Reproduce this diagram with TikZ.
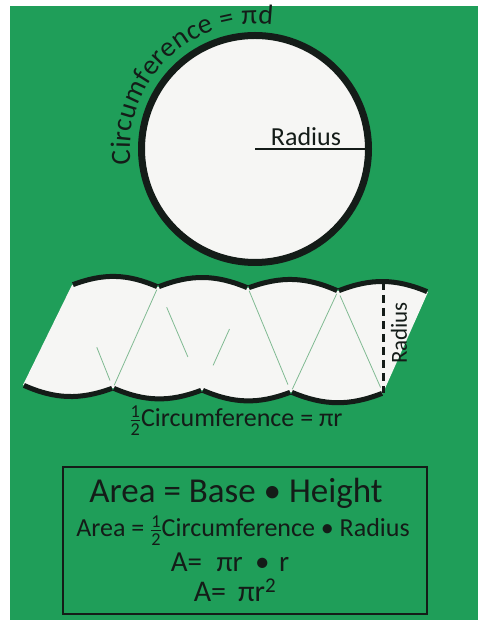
\documentclass[tikz,border=0pt]{standalone}
\usepackage{amsmath}
\usepackage{fontspec}
\setmainfont{Carlito}
\usepackage{tikz}
\usetikzlibrary{positioning,calc,decorations.text}
\definecolor{board}{RGB}{31,158,89}
\definecolor{paper}{RGB}{246,246,244}
\definecolor{ink}{RGB}{20,28,24}
\definecolor{slit}{RGB}{128,186,146}
\newcommand{\half}{\ensuremath{\frac{\text{1}}{\text{2}}}}
\newcommand{\fs}[1]{\fontsize{#1}{#1}\selectfont}

\begin{document}
\begin{tikzpicture}[x=1pt, y=1pt,
  disc/.style={circle, draw=ink, fill=paper, line width=7pt, minimum size=227pt, inner sep=0pt},
  rim/.style={draw=ink, line width=5pt, shorten <=1pt, shorten >=1pt},
  slitline/.style={draw=slit, line width=0.8pt},
  lbl/.style={text=ink, inner sep=0pt, anchor=base}]
  \useasboundingbox (0,0) rectangle (478,620);
  \fill[white] (0,0) rectangle (478,620);
  \fill[board] (10,0) rectangle (478,614);

  % whole circle
  \node[disc] (disc) at (255,471) {};
  \draw[ink, line width=2.5pt] (disc.center) -- (disc.east);
  \node[lbl, text=ink] (rad) at (306,474) {\fs{26}Radius};
  \path[decorate, decoration={text along path, text align={fit to path},
    text={|\fs{28}\color{ink}|Circumference = πd}}]
    ($(disc.center)+(187:125)$) arc[start angle=187, end angle=82, radius=125];

  % sectors laid out
  \coordinate (T0) at (72,335);  \coordinate (B0) at (23,235);
  \coordinate (T1) at (158,333); \coordinate (B1) at (113,232);
  \coordinate (T2) at (248,332); \coordinate (B2) at (202,230);
  \coordinate (T3) at (338,329); \coordinate (B3) at (291,228);
  \coordinate (T4) at (428,328); \coordinate (B4) at (383,227);
  \coordinate (htop) at (383,338);
  \fill[paper] (T0) to[bend left=22] (T1) to[bend left=22] (T2) to[bend left=22] (T3)
    to[bend left=22] (T4) -- (B4) to[bend left=22] (B3) to[bend left=22] (B2)
    to[bend left=22] (B1) to[bend left=22] (B0) -- cycle;
  \foreach \a/\b in {T0/T1,T1/T2,T2/T3,T3/T4}
    \draw[rim] (\a) to[bend left=22] (\b);
  \foreach \a/\b in {B0/B1,B1/B2,B2/B3,B3/B4}
    \draw[rim] (\a) to[bend right=22] (\b);
  % cuts between the pieces
  \draw[slitline, shorten <=8pt, shorten >=67pt] (B1) -- (T0);
  \draw[slitline, shorten <=3pt, shorten >=3pt] (T1) -- (B1);
  \draw[slitline, shorten <=22pt, shorten >=36pt] (T1) -- (B2);
  \draw[slitline, shorten <=27pt, shorten >=45pt] (B2) -- (T2);
  \draw[slitline, shorten <=3pt, shorten >=8pt] (T2) -- (B3);
  \draw[slitline, shorten <=3pt, shorten >=3pt] (T3) -- (B3);
  \draw[slitline, shorten <=5pt, shorten >=6pt] (T3) -- (B4);
  \draw[ink, line width=3pt, dash pattern=on 8pt off 5pt] (htop) -- (B4);
  \node[text=ink, rotate=90, inner sep=0pt] (hrad) at (399,287) {\fs{23}Radius};
  \node[lbl] (halfc) at (236,193) {\fs{26}\half Circumference = πr};

  % formulas
  \node[draw=ink, line width=2pt, minimum width=364pt, minimum height=147pt] (frame) at (245,79.5) {};
  \node[lbl] (f1) at (236,117) {\fs{35}Area = Base • Height};
  \node[lbl] (f2) at (243,83) {\fs{26}Area = \half Circumference • Radius};
  \node[lbl] (f3) at (230,48) {\fs{29}A=\hspace{0.5em}πr\hspace{0.2em} • \hspace{0.1em}r};
  \node[lbl] (f4) at (235,18) {\fs{30}A=\hspace{0.4em}πr\textsuperscript{2}};
\end{tikzpicture}
\end{document}
